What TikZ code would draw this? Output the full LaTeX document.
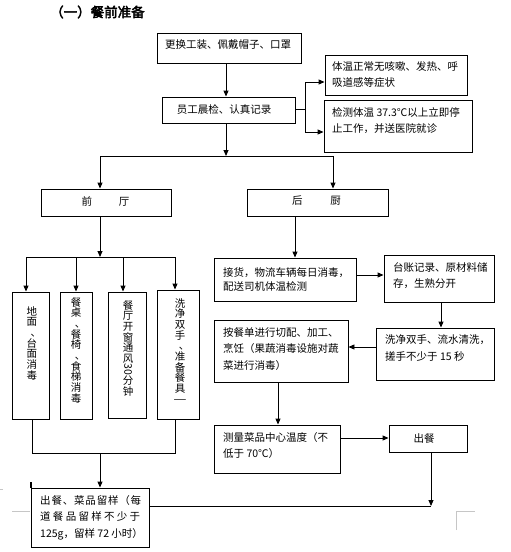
\documentclass[tikz,border=0pt]{standalone}
\usepackage{fontspec}
\setmainfont{Noto Sans CJK SC}
\newfontfamily\titlefont{Noto Sans CJK SC}[FakeBold=3]
\usetikzlibrary{arrows.meta}
\newcommand{\ml}[1]{\parbox[t]{200pt}{\raggedright #1}}
\newcommand{\vdun}{\makebox[10.5pt][l]{\hspace{4pt}、}}
\begin{document}
\begin{tikzpicture}[x=1pt,y=-1pt,
  box/.style={draw, line width=0.9pt, inner sep=0pt},
  txt/.style={inner sep=0pt, anchor=base west, font=\fontsize{10.5}{16.5}\selectfont},
  ctxt/.style={inner sep=0pt, font=\fontsize{10.5}{16.5}\selectfont},
  vtxt/.style={inner sep=0pt, align=center, anchor=north, font=\fontsize{10.5}{10.7}\selectfont},
  arr/.style={line width=0.9pt, -{Triangle[length=6pt,width=5pt]}},
  ln/.style={line width=0.9pt},
  pgmark/.style={gray!45, line width=0.8pt}
]
\useasboundingbox (0,0) rectangle (511,552);

\node[inner sep=0pt, anchor=west, font=\titlefont\fontsize{13.5}{16}\selectfont] (title) at (50,12) {（一）餐前准备};

% top boxes
\node[box, minimum width=144, minimum height=30] (b1) at (229,48) {};
\node[ctxt] (t1) at (228,45) {更换工装、佩戴帽子、口罩};
\node[box, minimum width=133, minimum height=26] (b2) at (228.5,110) {};
\node[ctxt] (t2) at (224,109) {员工晨检、认真记录};
\node[box, minimum width=142, minimum height=40] (b3) at (396,75) {};
\node[txt] (t3) at (332,70) {\ml{体温正常无咳嗽、发热、呼\\吸道感等症状}};
\node[box, minimum width=148, minimum height=52] (b4) at (398,126) {};
\node[txt] (t4) at (332,116) {\ml{检测体温 37.3℃以上立即停\\止工作，并送医院就诊}};

% two branches
\node[box, minimum width=130, minimum height=27] (qt) at (106,202.5) {};
\node[ctxt] (tqt) at (105.5,201) {前\hspace{27pt}厅};
\node[box, minimum width=141, minimum height=27] (hc) at (317.5,202.5) {};
\node[ctxt] (thc) at (316.5,201) {后\hspace{28pt}厨};

% vertical boxes
\node[box, minimum width=37, minimum height=127] (v1) at (30.5,355.5) {};
\node[vtxt] (tv1) at (32,306) {地\\面\\\vdun\\台\\面\\消\\毒};
\node[box, minimum width=32, minimum height=127] (v2) at (76,355.5) {};
\node[vtxt] (tv2) at (76,297) {餐\\桌\\\vdun\\餐\\椅\\\vdun\\食\\梯\\消\\毒};
\node[box, minimum width=38, minimum height=126] (v3) at (127,355) {};
\node[vtxt] (tv3) at (128,300) {餐\\厅\\开\\窗\\通\\风\\\rotatebox[origin=c]{-90}{30}\\分\\钟};
\node[box, minimum width=42, minimum height=129] (v4) at (178,354.5) {};
\node[vtxt] (tv4) at (180,298) {洗\\净\\双\\手\\\vdun\\准\\备\\餐\\具\\\rotatebox[origin=c]{-90}{|}};

% final box
\node[box, minimum width=118, minimum height=59] (fin) at (90,517.5) {};
\node[txt, font=\fontsize{10.5}{16.5}\selectfont] (tfin) at (40,504) {\parbox[t]{110pt}{%
\makebox[101pt][s]{出\hfill 餐\hfill 、\hfill 菜\hfill 品\hfill 留\hfill 样\hfill （\hfill 每}\\
\makebox[100pt][s]{道\hfill 餐\hfill 品\hfill 留\hfill 样\hfill 不\hfill 少\hfill 于}\\
125g，留样 72 小时）}};

% kitchen side
\node[box, minimum width=142, minimum height=43] (jh) at (285,279.5) {};
\node[txt, font=\fontsize{10.5}{14}\selectfont] (tjh) at (223,276) {\ml{接货，物流车辆每日消毒，\\配送司机体温检测}};
\node[box, minimum width=110, minimum height=47] (tz) at (439,278.5) {};
\node[txt] (ttz) at (393,271) {\ml{台账记录、原材料储\\存，生熟分开}};
\node[box, minimum width=118, minimum height=52] (xj) at (435,354) {};
\node[txt, font=\fontsize{10.5}{17.5}\selectfont] (txj) at (385,343) {\ml{洗净双手、流水清洗，\\搓手不少于 15 秒}};
\node[box, minimum width=134, minimum height=62] (ac) at (281,351) {};
\node[txt] (tac) at (223,336) {\ml{按餐单进行切配、加工、\\烹饪（果蔬消毒设施对蔬\\菜进行消毒）}};
\node[box, minimum width=126, minimum height=48] (cl) at (277,449) {};
\node[txt] (tcl) at (223,441) {\ml{测量菜品中心温度（不\\低于 70℃）}};
\node[box, minimum width=78, minimum height=27] (cc) at (428,438.5) {};
\node[ctxt] (tcc) at (424,438) {出餐};

% coordinates
\coordinate (j0) at (226,156);
\coordinate (jL) at (100,156);
\coordinate (jR) at (333,156);
\coordinate (k1) at (305,82);
\coordinate (k2) at (305,132);
\coordinate (kb) at (305,109);
\coordinate (f0) at (100,257);
\coordinate (f1) at (26,257);
\coordinate (f2) at (76,257);
\coordinate (f3) at (123,257);
\coordinate (f4) at (175,257);
\coordinate (g0) at (100,453);
\coordinate (g1) at (32,453);
\coordinate (g4) at (175,453);
\coordinate (xh) at (295,230);
\coordinate (yh) at (370,275);
\coordinate (xt) at (441,315);
\coordinate (ya) at (362,347);
\coordinate (xa) at (278,400);
\coordinate (yc) at (360,438);
\coordinate (e1) at (431,506);

% connectors
\draw[arr] (b1.south -| j0) -- (b2.north -| j0);
\draw[arr] (b2.south -| j0) -- (j0);
\draw[ln] (b2.east |- kb) -- (kb);
\draw[ln] (k1) -- (k2);
\draw[arr] (k1) -- (b3.west |- k1);
\draw[arr] (k2) -- (b4.west |- k2);
\draw[ln] (jL) -- (jR);
\draw[arr] (jL) -- (qt.north -| jL);
\draw[arr] (jR) -- (hc.north -| jR);

\draw[arr] (qt.south -| f0) -- (f0);
\draw[ln] (f1) -- (f4);
\draw[arr] (f1) -- (v1.north -| f1);
\draw[arr] (f2) -- (v2.north -| f2);
\draw[arr] (f3) -- (v3.north -| f3);
\draw[arr] (f4) -- (v4.north -| f4);
\draw[ln] (v1.south -| g1) -- (g1) -- (g4) -- (v4.south -| g4);
\draw[arr] (g0) -- (fin.north -| g0);

\draw[arr] (hc.south -| xh) -- (jh.north -| xh);
\draw[arr] (jh.east |- yh) -- (tz.west |- yh);
\draw[arr] (tz.south -| xt) -- (xj.north -| xt);
\draw[arr] (xj.west |- ya) -- (ac.east |- ya);
\draw[arr] (ac.south -| xa) -- (cl.north -| xa);
\draw[arr] (cl.east |- yc) -- (cc.west |- yc);
\draw[arr] (cc.south -| e1) -- (e1);
\draw[ln] (fin.east |- e1) -- (e1);

% page marks
\draw[pgmark] (12,511) -- (30,511);
\draw[pgmark] (0,489) -- (3,489);
\draw[pgmark] (456,530) -- (456,511) -- (475,511);
\draw[line width=1.2pt] (31,482) -- (31,488);
\end{tikzpicture}
\end{document}
